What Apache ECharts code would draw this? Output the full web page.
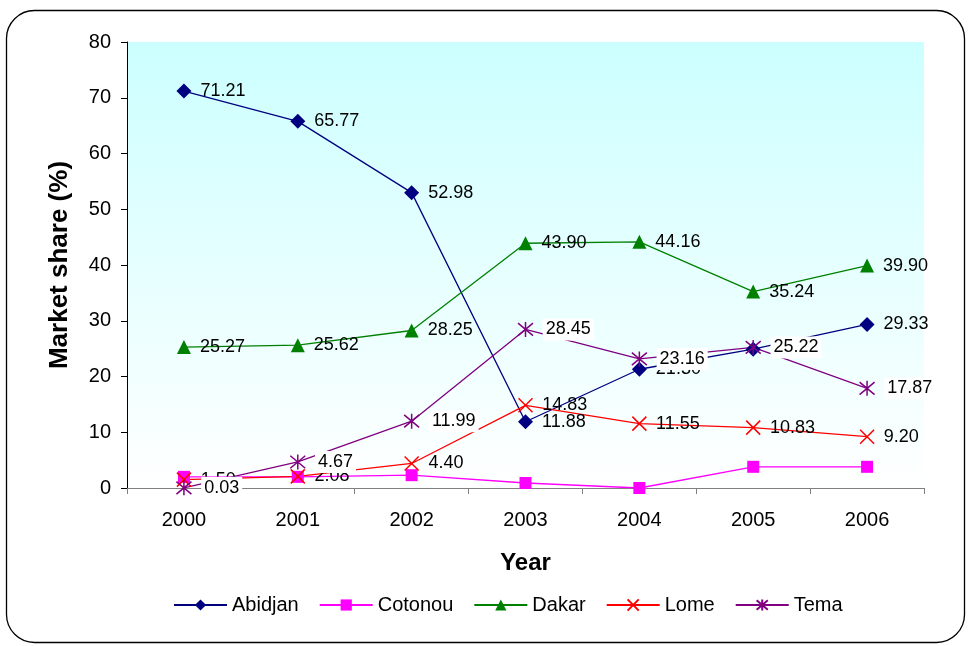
<!DOCTYPE html>
<html>
<head>
<meta charset="utf-8">
<script src="https://cdn.jsdelivr.net/npm/echarts@6/dist/echarts.min.js"></script>
<style>
html,body{margin:0;padding:0;background:#fff;}
#main{width:968px;height:646px;}
</style>
</head>
<body>
<div id="main"></div>
<script>
var years = ['2000', '2001', '2002', '2003', '2004', '2005', '2006'];
var abidjan = [71.21, 65.77, 52.98, 11.88, 21.3, 24.9, 29.33];
var cotonou = [2.0, 2.0, 2.3, 0.9, 0.0, 3.8, 3.8];
var dakar = [25.27, 25.62, 28.25, 43.90, 44.16, 35.24, 39.90];
var lome = [1.5, 2.08, 4.40, 14.83, 11.55, 10.83, 9.20];
var tema = [0.03, 4.67, 11.99, 28.45, 23.16, 25.22, 17.87];

var FONT = 'Liberation Sans, Arial, sans-serif';
var xPath = 'path://M0,0L10,10M10,0L0,10';
var starPath = 'path://M0,0L10,10M10,0L0,10M5,-1L5,11';

function lbl(bg) {
	return {
		show: true,
		position: 'right',
		distance: 9,
		fontFamily: FONT,
		fontSize: 18,
		color: '#000',
		backgroundColor: bg || 'transparent',
		padding: bg ? [2, 3] : 0,
		formatter: function (p) { return p.value.toFixed(2); }
	};
}

var chart = echarts.init(document.getElementById('main'));
var option = {
	animation: false,
	graphic: [{
		type: 'rect',
		shape: {x: 6.5, y: 10.5, width: 958, height: 632, r: 28},
		style: {fill: 'none', stroke: '#000', lineWidth: 1.3},
		z: -10
	}],
	legend: {
		top: 590,
		left: 168,
		itemWidth: 53,
		itemHeight: 14,
		itemGap: 20,
		textStyle: {fontFamily: FONT, fontSize: 20, color: '#000'},
		data: ['Abidjan', 'Cotonou', 'Dakar', 'Lome', 'Tema']
	},
	grid: {
		left: 127, right: 44, top: 42, bottom: 158,
		show: true,
		borderWidth: 0,
		backgroundColor: new echarts.graphic.LinearGradient(0, 0, 0, 1, [
			{offset: 0, color: '#ccffff'},
			{offset: 1, color: '#ffffff'}
		])
	},
	xAxis: {
		type: 'category',
		data: years,
		boundaryGap: true,
		name: 'Year',
		nameLocation: 'middle',
		nameGap: 63,
		nameTextStyle: {fontFamily: FONT, fontSize: 24, fontWeight: 'bold', color: '#000'},
		axisLine: {lineStyle: {color: '#808080', width: 1}},
		axisTick: {show: true, length: 6, lineStyle: {color: '#808080'}},
		axisLabel: {fontFamily: FONT, fontSize: 20, color: '#000', margin: 22},
		splitLine: {show: false}
	},
	yAxis: {
		type: 'value',
		min: 0, max: 80, interval: 10,
		name: 'Market share (%)',
		nameLocation: 'middle',
		nameGap: 54,
		nameTextStyle: {fontFamily: FONT, fontSize: 26, fontWeight: 'bold', color: '#000'},
		axisLine: {show: true, lineStyle: {color: '#000', width: 1}},
		axisTick: {show: true, length: 6, lineStyle: {color: '#000'}},
		axisLabel: {fontFamily: FONT, fontSize: 20, color: '#000', margin: 16},
		splitLine: {show: false}
	},
	series: [
		{
			name: 'Abidjan', type: 'line', data: abidjan,
			symbol: 'diamond', symbolSize: 15,
			lineStyle: {color: '#000080', width: 1.3},
			itemStyle: {color: '#000080'},
			label: lbl()
		},
		{
			name: 'Cotonou', type: 'line', data: cotonou,
			symbol: 'rect', symbolSize: 12,
			lineStyle: {color: '#ff00ff', width: 1.3},
			itemStyle: {color: '#ff00ff'}
		},
		{
			name: 'Dakar', type: 'line', data: dakar,
			symbol: 'triangle', symbolSize: 14,
			lineStyle: {color: '#008000', width: 1.3},
			itemStyle: {color: '#008000'},
			label: lbl()
		},
		{
			name: 'Lome', type: 'line', data: lome,
			symbol: xPath, symbolSize: 14,
			lineStyle: {color: '#ff0000', width: 1.3},
			itemStyle: {color: '#ff0000', borderColor: '#ff0000', borderWidth: 1.5},
			label: lbl()
		},
		{
			name: 'Tema', type: 'line', data: tema,
			symbol: starPath, symbolSize: 15,
			lineStyle: {color: '#800080', width: 1.3},
			itemStyle: {color: '#800080', borderColor: '#800080', borderWidth: 1.5},
			label: lbl('#ffffff')
		}
	]
};
chart.setOption(option);
</script>
</body>
</html>
